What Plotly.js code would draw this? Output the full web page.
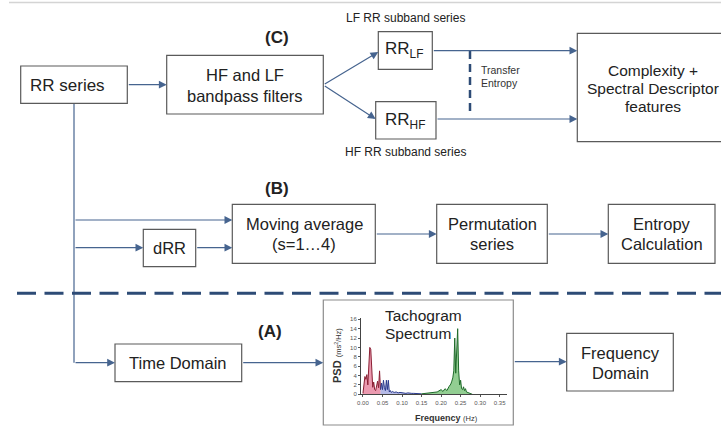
<!DOCTYPE html>
<html>
<head>
<meta charset="utf-8">
<script src="https://cdn.plot.ly/plotly-3.0.1.min.js"></script>
<style>html,body{margin:0;padding:0;background:#fff;}#chart{width:721px;height:429px;}</style>
</head>
<body>
<div id="chart"></div>
<script>
// ---- Inset "Tachogram Spectrum" data (frequency in Hz, PSD in ms^2/Hz) ----
var vlfFreq = [0.000,0.0025,0.005,0.0075,0.010,0.0125,0.015,0.0175,0.020,0.0225,0.025,0.0275,0.030,0.0325,0.035,0.0375,0.040,0.0425,0.045];
var vlfPsd  = [0.2,3.0,3.8,3.2,4.2,2.0,7.5,10.0,9.6,4.0,1.5,2.6,1.0,0.8,2.4,2.8,1.4,5.0,1.0];
var lfFreq  = [0.045,0.0475,0.050,0.0525,0.055,0.0575,0.060,0.0625,0.065,0.0675,0.070,0.0725,0.075,0.080,0.085,0.090,0.095,0.100,0.105,0.110,0.115,0.120,0.125,0.130,0.135,0.140,0.145,0.150];
var lfPsd   = [1.0,2.4,1.0,3.0,1.4,0.8,3.0,1.0,3.0,0.5,0.8,0.4,0.6,0.4,0.5,0.3,0.4,0.3,0.3,0.2,0.3,0.2,0.2,0.2,0.15,0.1,0.15,0.1];
var hfFreq  = [0.150,0.160,0.170,0.180,0.190,0.200,0.205,0.210,0.215,0.220,0.225,0.2275,0.230,0.2325,0.235,0.2375,0.240,0.2425,0.245,0.2475,0.250,0.2525,0.255,0.2575,0.260,0.2625,0.265,0.270,0.275,0.280];
var hfPsd   = [0.1,0.2,0.3,0.3,0.5,1.0,0.6,1.2,0.8,1.6,2.2,2.8,3.5,5.0,12.0,4.5,9.0,14.0,5.0,2.0,3.0,1.2,1.0,1.6,0.8,1.2,0.5,0.3,0.1,0.0];
var yTicks = [0,2,4,6,8,10,12,14,16];
var xTicks = [0.00,0.05,0.10,0.15,0.20,0.25,0.30,0.35];

// ---- Flowchart text ----
var labelC = "(C)", labelB = "(B)", labelA = "(A)";
var lfCaption = "LF RR subband series", hfCaption = "HF RR subband series";

var FONT = "Liberation Sans, Arial, sans-serif";
var TXT = "#222222";
var BORDER = "#5a5a5a";
var ARROW = "#46648f";
var NAVY = "#2d4b76";

function box(x0,y0,x1,y1,col,layer){
  return {type:"rect",xref:"x",yref:"y",x0:x0,y0:y0,x1:x1,y1:y1,fillcolor:"#ffffff",line:{color:col||BORDER,width:1.2},layer:layer||"above"};
}
function line(x0,y0,x1,y1,extra){
  var s={type:"line",xref:"x",yref:"y",x0:x0,y0:y0,x1:x1,y1:y1,line:{color:ARROW,width:1.2},layer:"below"};
  if(extra){for(var k in extra){s[k]=extra[k];}}
  return s;
}
function arrow(x0,y0,x1,y1){
  return {x:x1,y:y1,ax:x0,ay:y0,xref:"x",yref:"y",axref:"x",ayref:"y",text:"",showarrow:true,
          arrowhead:2,arrowsize:1.3,arrowwidth:1.2,arrowcolor:ARROW,standoff:0,startstandoff:0};
}
function txt(x,y,t,size,opts){
  var a={x:x,y:y,xref:"x",yref:"y",text:t,showarrow:false,font:{family:FONT,size:size,color:TXT},xanchor:"center",yanchor:"middle"};
  if(opts){for(var k in opts){a[k]=opts[k];}}
  return a;
}

var shapes = [
  // top faint rule
  line(9,2.5,721,2.5,{line:{color:"#d4d4d4",width:1.5}}),
  // vertical trunk from RR series
  line(74,103,74,362.7),
  // horizontal dashed separator
  {type:"line",xref:"x",yref:"y",x0:17,y0:293.3,x1:725,y1:293.3,line:{color:NAVY,width:3,dash:"19px,8.5px"},layer:"below"},
  // transfer entropy dashed line
  {type:"line",xref:"x",yref:"y",x0:470,y0:51,x1:470,y1:112,line:{color:NAVY,width:2.5,dash:"8px,5px"},layer:"below"},
  // boxes
  box(20.7,66,127.3,103.3),
  box(166.7,55.3,323.3,114),
  box(378.3,31.7,432.3,69.3),
  box(375.7,101.7,436,139),
  box(577.3,33.3,726,141.7),
  box(143.3,229.3,195.7,266.7),
  box(232.3,204.3,375.3,263.3),
  box(436.7,204.3,547.3,263.3),
  box(608.3,204.3,715,263.3),
  box(115,344,241.7,381.7),
  box(323.3,300,513.3,425,"#8c8c8c","below"),
  box(566.7,333.3,673.3,391)
];

var annotations = [
  // arrows
  arrow(127.3,84.7,166.7,84.7),
  arrow(323.3,85,378.3,52),
  arrow(323.3,85,375.7,119),
  arrow(432.3,50.7,577.3,50.7),
  arrow(436,119,577.3,119),
  arrow(74,220,232.3,220),
  arrow(74,247.7,143.3,247.7),
  arrow(195.7,247.7,232.3,247.7),
  arrow(375.3,234,436.7,234),
  arrow(547.3,234,608.3,234),
  arrow(74,362.7,115,362.7),
  arrow(241.7,362.7,323.3,362.7),
  arrow(513.3,361.7,566.7,361.7),
  // text
  txt(67,85,"RR series",17),
  txt(245,74.5,"HF and LF",16.5),
  txt(245,96,"bandpass filters",16.5),
  txt(276.7,37.5,"<b>"+labelC+"</b>",17),
  txt(405,17.5,lfCaption,12),
  txt(405,151.5,hfCaption,12),
  txt(404,50,"RR<sub>LF</sub>",17),
  txt(405,120.5,"RR<sub>HF</sub>",17),
  txt(479,70,"Transfer",10.5,{xanchor:"left",font:{family:FONT,size:10.5,color:"#333"}}),
  txt(479,82.5,"Entropy",10.5,{xanchor:"left",font:{family:FONT,size:10.5,color:"#333"}}),
  txt(652.7,70,"Complexity +",15.5),
  txt(652.7,88,"Spectral Descriptor",15.5),
  txt(652.7,106,"features",15.5),
  txt(276.7,188.5,"<b>"+labelB+"</b>",17),
  txt(169.5,248,"dRR",16.5),
  txt(304,223.5,"Moving average",16.5),
  txt(304,244,"(s=1…4)",16.5),
  txt(492,223.5,"Permutation",16.5),
  txt(492,244,"series",16.5),
  txt(661.7,223.5,"Entropy",16.5),
  txt(661.7,244,"Calculation",16.5),
  txt(270,331,"<b>"+labelA+"</b>",17),
  txt(178.3,363,"Time Domain",16.5),
  txt(620,353,"Frequency",16.5),
  txt(620,373,"Domain",16.5),
  // inset labels
  txt(382.5,315,"Tachogram",15.5,{xanchor:"left"}),
  txt(382.5,333.5,"Spectrum",15.5,{xanchor:"left"}),
  txt(337,356,"<b>PSD</b> <span style='font-size:7.5px'>(ms<sup>2</sup>/Hz)</span>",11,{textangle:-90,font:{family:FONT,size:11,color:"#333"}}),
  txt(446.7,417.5,"<b>Frequency</b> <span style='font-size:7.5px'>(Hz)</span>",9,{font:{family:FONT,size:9,color:"#333"}})
];

function band(xs,ys,lineCol,fillCol){
  return {type:"scatter",mode:"lines",x:xs,y:ys,xaxis:"x2",yaxis:"y2",fill:"tozeroy",
          fillcolor:fillCol,line:{color:lineCol,width:1,shape:"linear"},hoverinfo:"skip"};
}

var data = [
  band(vlfFreq,vlfPsd,"#8a1f33","rgba(228,120,150,0.75)"),
  band(lfFreq,lfPsd,"#2a3a8c","rgba(120,130,210,0.55)"),
  band(hfFreq,hfPsd,"#1f6b2a","rgba(110,190,110,0.75)")
];

var axisFont = {family:FONT,size:6,color:"#555"};
var layout = {
  width:721,height:429,margin:{l:0,r:0,t:0,b:0},
  paper_bgcolor:"#ffffff",plot_bgcolor:"rgba(0,0,0,0)",
  showlegend:false,
  xaxis:{range:[0,721],visible:false,fixedrange:true,domain:[0,1]},
  yaxis:{range:[429,0],visible:false,fixedrange:true,domain:[0,1]},
  xaxis2:{domain:[361/721,506.7/721],range:[-0.005,0.368],anchor:"y2",
          tickvals:xTicks,ticktext:xTicks.map(function(v){return v.toFixed(2);}),
          tickfont:axisFont,ticks:"outside",ticklen:2,tickcolor:"#555",
          showline:true,linecolor:"#444",linewidth:1,showgrid:false,zeroline:false,fixedrange:true},
  yaxis2:{domain:[(429-394.3)/429,(429-317.9)/429],range:[0,16.3],anchor:"x2",
          tickvals:yTicks,tickfont:axisFont,ticks:"outside",ticklen:2,tickcolor:"#555",
          showline:true,linecolor:"#444",linewidth:1,showgrid:false,zeroline:false,fixedrange:true},
  shapes:shapes,
  annotations:annotations
};

Plotly.newPlot("chart",data,layout,{staticPlot:true,displayModeBar:false});
</script>
</body>
</html>
